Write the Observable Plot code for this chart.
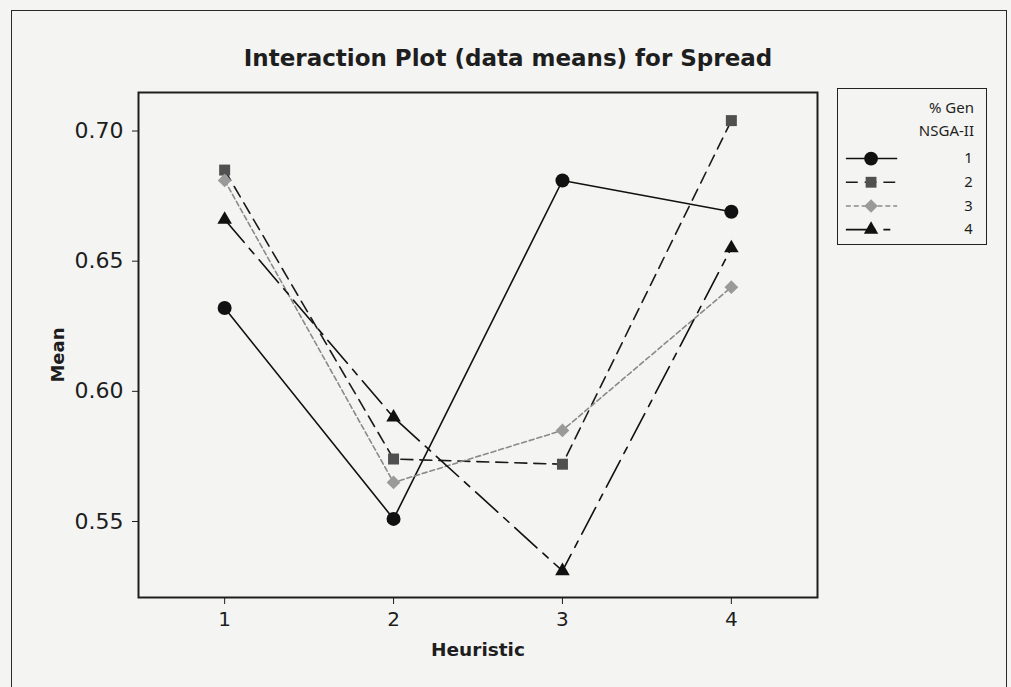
<!DOCTYPE html>
<html>
<head>
<meta charset="utf-8">
<script src="https://cdn.jsdelivr.net/npm/d3@7"></script>
<script src="https://cdn.jsdelivr.net/npm/@observablehq/plot@0.6"></script>
<style>
  html, body { margin: 0; padding: 0; background: #f4f4f2; overflow: hidden; }
  body { width: 1011px; height: 687px; position: relative; font-family: "DejaVu Sans", "Noto Sans", sans-serif; color: #1e1e1e; }
  #outer { position: absolute; left: 11px; top: 10px; width: 996px; height: 720px; border: 1.5px solid #2a2a2a; box-sizing: border-box; }
  #chart { position: absolute; left: 0; top: 0; }
  #title { position: absolute; left: 0; width: 1016px; top: 45px; text-align: center; font-weight: bold; font-size: 23px; font-family: "DejaVu Sans", sans-serif; }
  #legend { position: absolute; left: 837px; top: 88px; width: 150px; height: 157px; border: 1.5px solid #222; box-sizing: border-box; }
  #legend .hd { position: absolute; right: 12px; font-size: 15px; font-family: "Noto Sans", "DejaVu Sans", sans-serif; }
  #legendPlot { position: absolute; left: 0; top: 0; }
</style>
</head>
<body>
<div id="outer"></div>
<div id="chart"></div>
<div id="title">Interaction Plot (data means) for Spread</div>
<div id="legend">
  <div class="hd" style="top:8px">% Gen</div>
  <div class="hd" style="top:31px">NSGA-II</div>
  <div id="legendPlot"></div>
</div>
<script>
// ---- data ----
const heuristics = [1, 2, 3, 4];
const seriesNames = ["1", "2", "3", "4"];
const gen1 = [0.632, 0.551, 0.681, 0.669];
const gen2 = [0.685, 0.574, 0.572, 0.704];
const gen3 = [0.681, 0.565, 0.585, 0.640];
const gen4 = [0.666, 0.590, 0.531, 0.655];
const yTicks = [0.55, 0.60, 0.65, 0.70];
const xLabel = "Heuristic";
const yLabel = "Mean";

// ---- styles ----
const styles = {
  "1": {stroke: "#111", dash: null, symbol: "circle", fill: "#111", r: 7},
  "2": {stroke: "#1a1a1a", dash: "12,7", symbol: "square", fill: "#505050", r: 6.2},
  "3": {stroke: "#8a8a8a", dash: "5,3", symbol: "diamond2", fill: "#9a9a9a", r: 6.2},
  "4": {stroke: "#111", dash: "30,8,7,8", symbol: "triangle", fill: "#111", r: 5.4}
};

const values = [gen1, gen2, gen3, gen4];
const rows = seriesNames.flatMap((s, i) => heuristics.map((h, j) => ({gen: s, h, mean: values[i][j]})));

const font = '"DejaVu Sans", "Noto Sans", sans-serif';

const marks = [Plot.frame({stroke: "#1e1e1e", strokeWidth: 2})];
for (const s of seriesNames) {
  const st = styles[s];
  const d = rows.filter(r => r.gen === s);
  marks.push(Plot.line(d, {x: "h", y: "mean", stroke: st.stroke, strokeWidth: 1.6, strokeDasharray: st.dash}));
}
for (const s of seriesNames) {
  const st = styles[s];
  const d = rows.filter(r => r.gen === s);
  marks.push(Plot.dot(d, {x: "h", y: "mean", symbol: () => st.symbol, fill: st.fill, stroke: "none", r: st.r}));
}
marks.push(
  Plot.axisX({ticks: heuristics, tickFormat: d => String(d), tickSize: 7, tickPadding: 7, fontSize: 20, label: null, stroke: "#1e1e1e"}),
  Plot.axisY({ticks: yTicks, tickFormat: d3.format(".2f"), tickSize: 6, tickPadding: 9, fontSize: 22, label: null, stroke: "#1e1e1e"}),
  Plot.text([xLabel], {frameAnchor: "bottom", dy: 58, text: d => d, textAnchor: "middle", fontSize: 18.5, fontWeight: "bold", fill: "#1e1e1e"}),
  Plot.text([yLabel], {frameAnchor: "left", dx: -80, dy: 10, rotate: -90, text: d => d, textAnchor: "middle", fontSize: 18, fontWeight: "bold", fill: "#1e1e1e"})
);

const chart = Plot.plot({
  width: 1011,
  height: 687,
  marginLeft: 138,
  marginRight: 194,
  marginTop: 92,
  marginBottom: 90,
  x: {domain: [0.49, 4.51]},
  y: {domain: [0.5208, 0.7148]},
  symbol: {type: "identity"},
  style: {background: "transparent", fontFamily: font, color: "#1e1e1e", overflow: "visible"},
  marks
});
document.getElementById("chart").appendChild(chart);

// ---- legend ----
const legendRows = seriesNames.map(s => ({gen: s}));
const legend = Plot.plot({
  width: 150,
  height: 157,
  margin: 0,
  x: {domain: [0, 150], range: [0, 150], axis: null},
  y: {type: "point", domain: seriesNames, range: [69, 142], padding: 0, axis: null},
  symbol: {type: "identity"},
  style: {background: "transparent", fontFamily: '"Noto Sans", "DejaVu Sans", sans-serif', overflow: "visible"},
  marks: [
    ...seriesNames.map(s => Plot.ruleY([s], {y: d => d, x1: 8, x2: 60, stroke: styles[s].stroke, strokeWidth: 1.6, strokeDasharray: styles[s].dash})),
    ...seriesNames.map(s => Plot.dot([s], {y: d => d, x: 33, symbol: () => styles[s].symbol, fill: styles[s].fill, r: styles[s].r})),
    Plot.text(legendRows, {y: "gen", x: 136, text: "gen", textAnchor: "end", fontSize: 15, fill: "#1e1e1e"})
  ]
});
document.getElementById("legendPlot").appendChild(legend);
</script>
</body>
</html>
